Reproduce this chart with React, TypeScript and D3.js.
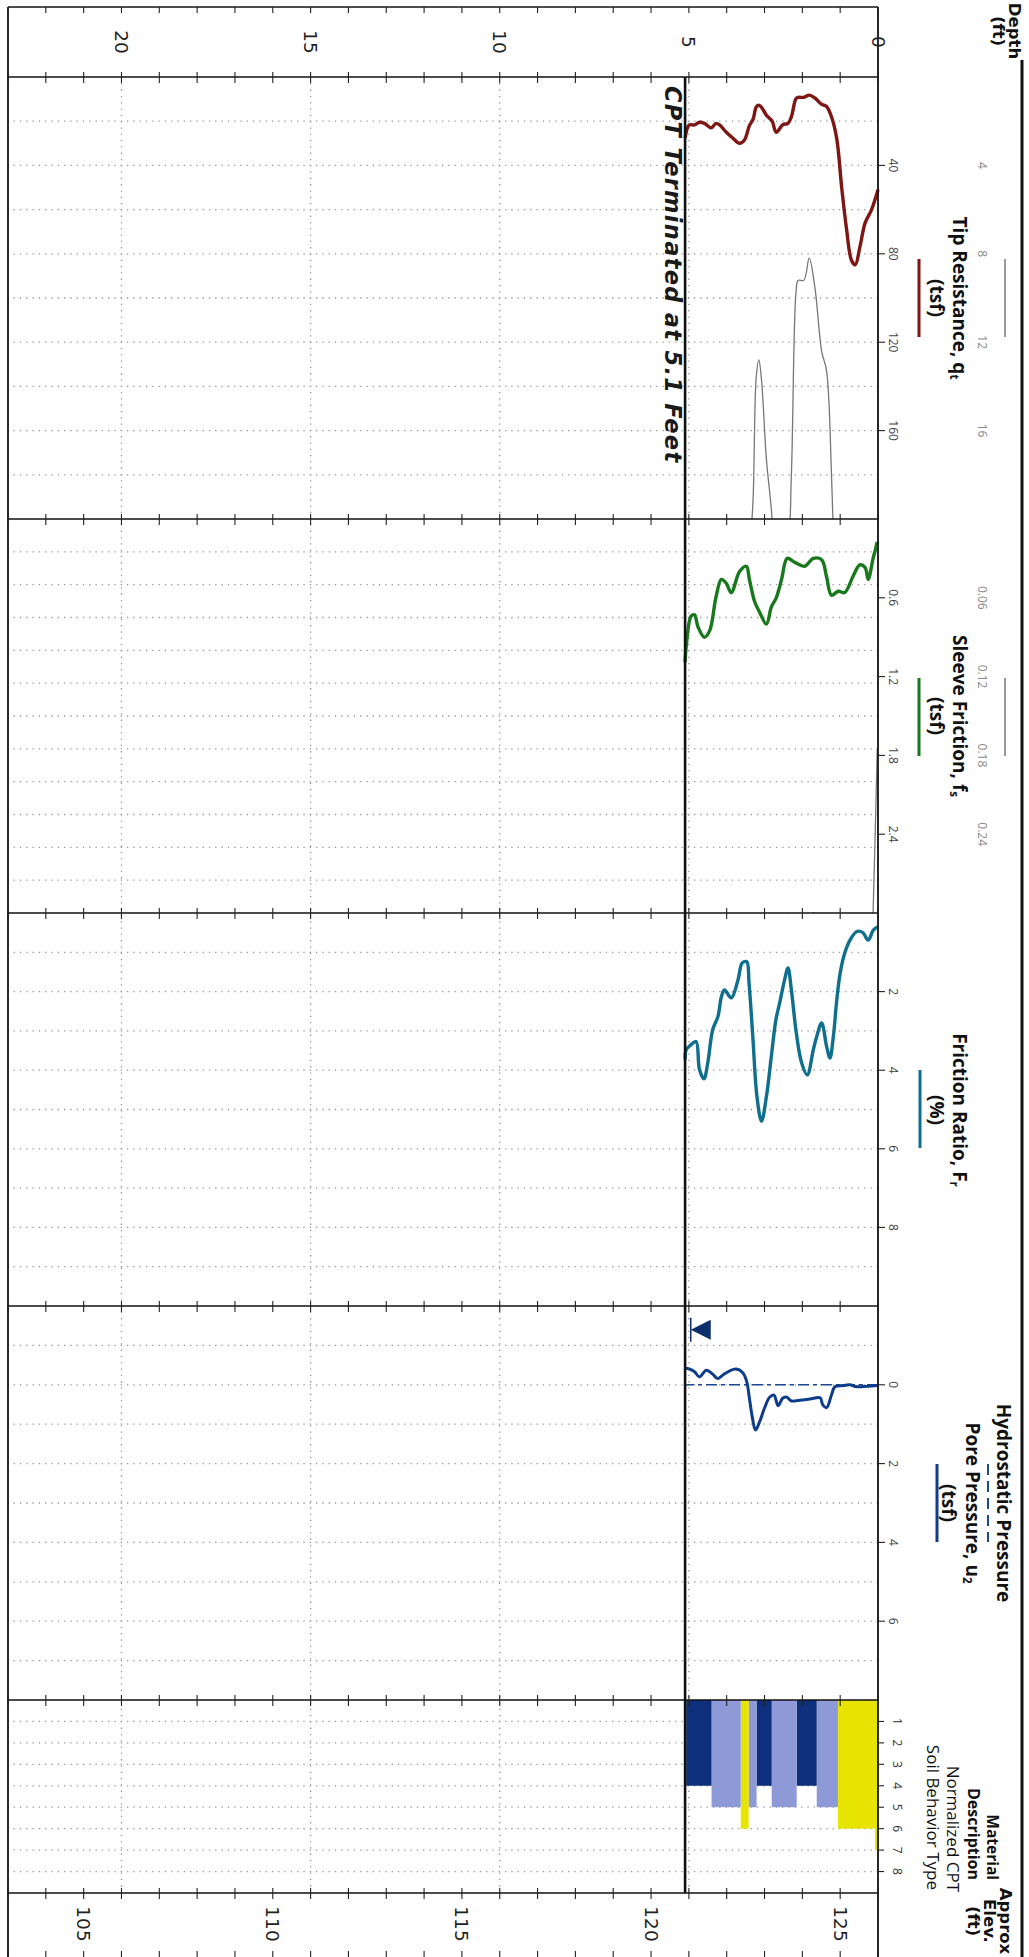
import React from "react";
import * as d3 from "d3";

// CPT sounding readings, depth in feet
const tipDepth = [0, 0.17, 0.34, 0.48, 0.6, 0.7, 0.83, 0.96, 1.09, 1.23, 1.36, 1.49, 1.67, 1.82, 1.96, 2.11, 2.17, 2.29, 2.38, 2.51, 2.69, 2.8, 2.95, 3.08, 3.15, 3.22, 3.3, 3.4, 3.53, 3.66, 3.84, 4.01, 4.19, 4.28, 4.41, 4.59, 4.72, 4.85, 4.99, 5.1];
const tipQt = [51, 60, 66, 77, 85, 83, 69, 50, 28, 18, 13.3, 12.4, 9.5, 8.2, 9.2, 9.2, 9.8, 18, 21, 21.5, 25, 20, 17.3, 13.7, 12.8, 13.6, 19, 22, 28.5, 30, 27.6, 25, 21.7, 21, 23, 21, 20.5, 21.7, 21.7, 27.6];

const fsDepth = [0.02, 0.07, 0.13, 0.26, 0.34, 0.48, 0.65, 0.88, 1.05, 1.23, 1.36, 1.49, 1.71, 1.94, 2.2, 2.4, 2.55, 2.69, 2.82, 2.95, 3.13, 3.26, 3.4, 3.48, 3.66, 3.88, 4.01, 4.14, 4.28, 4.45, 4.59, 4.76, 4.85, 4.94, 5.07, 5.1];
const fsValue = [0.175, 0.235, 0.3, 0.46, 0.37, 0.35, 0.43, 0.56, 0.55, 0.58, 0.44, 0.31, 0.3, 0.36, 0.33, 0.3, 0.46, 0.6, 0.67, 0.8, 0.71, 0.63, 0.46, 0.36, 0.4, 0.56, 0.49, 0.46, 0.59, 0.85, 0.9, 0.82, 0.73, 0.74, 0.97, 1.09];

const frDepth = [0, 0.12, 0.26, 0.4, 0.56, 0.74, 0.88, 1.0, 1.09, 1.18, 1.27, 1.36, 1.49, 1.62, 1.71, 1.87, 2.02, 2.16, 2.29, 2.38, 2.47, 2.6, 2.7, 2.82, 2.95, 3.08, 3.2, 3.31, 3.41, 3.47, 3.59, 3.7, 3.88, 4.06, 4.14, 4.23, 4.37, 4.5, 4.6, 4.72, 4.81, 4.94, 5.07, 5.1];
const frValue = [0.35, 0.43, 0.69, 0.5, 0.47, 0.69, 1.02, 1.53, 2.21, 3.14, 3.69, 3.39, 2.8, 3.14, 3.48, 4.12, 3.81, 3.05, 1.96, 1.4, 1.7, 2.29, 2.72, 3.65, 4.67, 5.3, 4.67, 3.14, 1.78, 1.24, 1.27, 1.7, 2.16, 1.96, 2.13, 2.63, 2.97, 3.81, 4.22, 3.98, 3.27, 3.35, 3.48, 3.73];

const u2Depth = [0, 0.3, 0.56, 0.75, 0.92, 1.14, 1.23, 1.36, 1.46, 1.53, 1.8, 2.07, 2.29, 2.42, 2.52, 2.64, 2.75, 2.86, 3.0, 3.13, 3.24, 3.32, 3.4, 3.47, 3.57, 3.75, 3.93, 4.1, 4.24, 4.37, 4.54, 4.72, 4.85, 4.99, 5.1];
const u2Value = [0.02, 0.04, 0.05, 0.0, 0.02, 0.05, 0.26, 0.58, 0.51, 0.33, 0.36, 0.39, 0.41, 0.31, 0.34, 0.53, 0.26, 0.31, 0.59, 0.94, 1.15, 0.84, 0.34, -0.08, -0.3, -0.4, -0.35, -0.25, -0.16, -0.27, -0.37, -0.2, -0.33, -0.4, -0.42];

const hydroDepth = [0, 4.95, 5.1];
const hydroValue = [0, 0, 0.005];
const waterDepth = 4.95;
const endDepth = 5.1;

// soil behaviour type layers
const sbtTop = [0, 0.08, 1.06, 1.62, 2.15, 2.81, 3.21, 3.42, 3.63, 4.4];
const sbtBottom = [0.08, 1.06, 1.62, 2.15, 2.81, 3.21, 3.42, 3.63, 4.4, 5.07];
const sbtZone = [7, 6, 5, 4, 5, 4, 5, 6, 5, 4];

// axis labels
const depthLabels = [0, 5, 10, 15, 20];
const elevLabels = [125, 120, 115, 110, 105];
const groundElev = 126;
const tipTicks = [40, 80, 120, 160];
const tipTicks2 = [4, 8, 12, 16];
const fsTicks = [0.6, 1.2, 1.8, 2.4];
const fsTicks2 = [0.06, 0.12, 0.18, 0.24];
const frTicks = [2, 4, 6, 8];
const u2Ticks = [0, 2, 4, 6];
const sbtTicks = [1, 2, 3, 4, 5, 6, 7, 8];

const zoneColor = (z: number) => (z <= 4 ? "#0d2f7c" : z === 5 ? "#8e99d8" : "#e6e400");

const W = 1029;
const H = 1957;
const TOP = 151; // depth 0 (rotated frame)
const BOT = 1021;
const borders = [7, 77, 519, 913, 1306, 1700, 1893];

const sans = "'Open Sans', 'Noto Sans', sans-serif";
const deja = "'DejaVu Sans', Verdana, sans-serif";

export default function App() {
  const y = d3.scaleLinear().domain([0, 23]).range([TOP, BOT]);
  const xTip = d3.scaleLinear().domain([0, 200]).range([77, 519]);
  const xTip2 = d3.scaleLinear().domain([0, 20]).range([77, 519]);
  const xFs = d3.scaleLinear().domain([0, 3]).range([519, 913]);
  const xFs2 = d3.scaleLinear().domain([0, 0.3]).range([519, 913]);
  const xFr = d3.scaleLinear().domain([0, 10]).range([913, 1306]);
  const xU = d3.scaleLinear().domain([-2, 8]).range([1306, 1700]);
  const xSbt = d3.scaleLinear().domain([0, 9]).range([1700, 1893]);

  const path = (sx: d3.ScaleLinear<number, number>, dep: number[], val: number[]) =>
    d3
      .line<number>()
      .x((i) => sx(val[i]))
      .y((i) => y(dep[i]))
      .curve(d3.curveCatmullRom.alpha(0.5))(d3.range(dep.length)) || "";

  const feet = d3.range(0, 24);
  const grid = [
    ...d3.range(20, 200, 20).map((v) => xTip(v)),
    ...d3.range(0.25, 2.99, 0.25).map((v) => xFs(v)),
    ...d3.range(1, 10).map((v) => xFr(v)),
    ...d3.range(-1, 8).map((v) => xU(v)),
    ...d3.range(1, 9).map((v) => xSbt(v)),
  ];
  const dot = { stroke: "#959595", strokeWidth: 1.3, strokeDasharray: "1.3 5" };

  const primTicks: [number, string][] = [
    ...tipTicks.map((v) => [xTip(v), String(v)] as [number, string]),
    ...fsTicks.map((v) => [xFs(v), v.toFixed(1)] as [number, string]),
    ...frTicks.map((v) => [xFr(v), String(v)] as [number, string]),
    ...u2Ticks.map((v) => [xU(v), String(v)] as [number, string]),
  ];
  const secTicks: [number, string][] = [
    ...tipTicks2.map((v) => [xTip2(v), String(v)] as [number, string]),
    ...fsTicks2.map((v) => [xFs2(v), v.toFixed(2)] as [number, string]),
  ];

  const wy = y(waterDepth);
  const wx = xU(-1.4);

  return (
    <div style={{ position: "absolute", left: 0, top: 0, width: W, height: H, background: "#fff" }}>
      <svg width={W} height={H} style={{ display: "block" }}>
        <rect width={W} height={H} fill="#fff" />
        <g transform={`translate(${W},0) rotate(90)`}>
          <defs>
            <clipPath id="clipTip">
              <rect x={77} y={TOP} width={442} height={BOT - TOP} />
            </clipPath>
            <clipPath id="clipFs">
              <rect x={519} y={TOP} width={394} height={BOT - TOP} />
            </clipPath>
          </defs>

          {/* dotted grid */}
          {grid.map((gx, i) => (
            <line key={"g" + i} x1={gx} x2={gx} y1={TOP} y2={BOT} {...dot} />
          ))}
          {[5, 10, 15, 20].map((d) => (
            <line key={"dg" + d} x1={77} x2={1893} y1={y(d)} y2={y(d)} {...dot} />
          ))}

          {/* SBT bars */}
          {sbtZone.map((z, i) => (
            <rect
              key={"s" + i}
              x={xSbt(0)}
              y={y(sbtTop[i])}
              width={xSbt(z) - xSbt(0)}
              height={y(sbtBottom[i]) - y(sbtTop[i])}
              fill={zoneColor(z)}
            />
          ))}

          {/* secondary (zoomed) traces */}
          <g clipPath="url(#clipTip)">
            <path d={path(xTip2, tipDepth, tipQt)} fill="none" stroke="#777" strokeWidth={1.3} />
          </g>
          <g clipPath="url(#clipFs)">
            <path d={path(xFs2, fsDepth, fsValue)} fill="none" stroke="#777" strokeWidth={1.3} />
          </g>

          {/* main traces */}
          <path d={path(xTip, tipDepth, tipQt)} fill="none" stroke="#7e1714" strokeWidth={3.4} strokeLinejoin="round" />
          <path d={path(xFs, fsDepth, fsValue)} fill="none" stroke="#18781c" strokeWidth={3.4} strokeLinejoin="round" />
          <path d={path(xFr, frDepth, frValue)} fill="none" stroke="#0f6f8c" strokeWidth={3.4} strokeLinejoin="round" />
          <path
            d={d3.line<number>().x((i) => xU(hydroValue[i])).y((i) => y(hydroDepth[i]))(d3.range(hydroDepth.length)) || ""}
            fill="none"
            stroke="#1c4a8e"
            strokeWidth={1.6}
            strokeDasharray="11 4 4 4"
          />
          <path d={path(xU, u2Depth, u2Value)} fill="none" stroke="#0d3c8a" strokeWidth={3} strokeLinejoin="round" />

          {/* water table */}
          <path d={`M${wx - 10},${wy - 20}L${wx + 10},${wy - 20}L${wx},${wy}Z`} fill="#0d2f6e" />
          <line x1={wx - 12} x2={wx + 12} y1={wy} y2={wy} stroke="#0d2f6e" strokeWidth={1.5} />

          {/* frame */}
          {borders.map((bx) => (
            <line key={"b" + bx} x1={bx} x2={bx} y1={TOP} y2={BOT} stroke="#111" strokeWidth={1.6} />
          ))}
          <line x1={7} x2={1960} y1={TOP} y2={TOP} stroke="#111" strokeWidth={1.8} />
          <line x1={7} x2={1960} y1={BOT} y2={BOT} stroke="#111" strokeWidth={1.8} />
          <line x1={60} x2={1960} y1={7} y2={7} stroke="#111" strokeWidth={3} />
          <line x1={77} x2={1893} y1={y(endDepth)} y2={y(endDepth)} stroke="#111" strokeWidth={2.6} />

          {/* foot ticks across every border */}
          {borders.map((bx) =>
            feet.map((f) => (
              <line
                key={"t" + bx + "-" + f}
                x1={bx === 7 ? bx : bx - 5}
                x2={bx + 6}
                y1={y(f)}
                y2={y(f)}
                stroke="#222"
                strokeWidth={1.1}
              />
            ))
          )}
          {feet.map((f) => (
            <line key={"te" + f} x1={1951} x2={1960} y1={y(f)} y2={y(f)} stroke="#222" strokeWidth={1.1} />
          ))}

          {/* value ticks and labels */}
          {primTicks.map(([tx, lab], i) => (
            <g key={"p" + i}>
              <line x1={tx} x2={tx} y1={TOP} y2={TOP - 7} stroke="#222" strokeWidth={1.1} />
              <text x={tx} y={136} textAnchor="middle" dominantBaseline="central" fontFamily={sans} fontSize={12} fill="#444">
                {lab}
              </text>
            </g>
          ))}
          {sbtTicks.map((v) => (
            <g key={"sb" + v}>
              <line x1={xSbt(v)} x2={xSbt(v)} y1={TOP} y2={TOP - 6} stroke="#222" strokeWidth={1.1} />
              <text x={xSbt(v)} y={132} textAnchor="middle" dominantBaseline="central" fontFamily={sans} fontSize={12} fill="#333">
                {v}
              </text>
            </g>
          ))}
          {secTicks.map(([tx, lab], i) => (
            <text key={"q" + i} x={tx} y={47} textAnchor="middle" dominantBaseline="central" fontFamily={sans} fontSize={12} fill="#888">
              {lab}
            </text>
          ))}

          {/* depth and elevation labels */}
          {depthLabels.map((d) => (
            <text key={"dl" + d} x={42} y={y(d)} textAnchor="middle" dominantBaseline="central" fontFamily={deja} fontSize={18.5} fill="#222">
              {d}
            </text>
          ))}
          {elevLabels.map((e) => (
            <text key={"el" + e} x={1924} y={y(groundElev - e)} textAnchor="middle" dominantBaseline="central" fontFamily={deja} fontSize={18.5} fill="#222">
              {e}
            </text>
          ))}

          {/* headers */}
          <g fontFamily={deja} fontWeight="bold" fontSize={16.5} textAnchor="middle" fill="#111">
            <text x={31} y={15} dominantBaseline="central">Depth</text>
            <text x={31} y={31} dominantBaseline="central">(ft)</text>
            <text x={1921} y={24} dominantBaseline="central">Approx</text>
            <text x={1921} y={40} dominantBaseline="central">Elev.</text>
            <text x={1921} y={56} dominantBaseline="central">(ft)</text>
          </g>

          <g fontFamily={sans} fontWeight="bold" fontSize={19} textAnchor="middle" fill="#111">
            <text x={298} y={69} dominantBaseline="central">
              Tip Resistance, q<tspan fontSize={11.5} dy={5}>t</tspan>
            </text>
            <text x={298} y={92} dominantBaseline="central">(tsf)</text>
            <text x={716} y={69} dominantBaseline="central">
              Sleeve Friction, f<tspan fontSize={11.5} dy={5}>s</tspan>
            </text>
            <text x={716} y={92} dominantBaseline="central">(tsf)</text>
            <text x={1110} y={69} dominantBaseline="central">
              Friction Ratio, F<tspan fontSize={11.5} dy={5}>r</tspan>
            </text>
            <text x={1110} y={92} dominantBaseline="central">(%)</text>
            <text x={1503} y={25} dominantBaseline="central">Hydrostatic Pressure</text>
            <text x={1503} y={56} dominantBaseline="central">
              Pore Pressure, u<tspan fontSize={11.5} dy={5}>2</tspan>
            </text>
            <text x={1503} y={80} dominantBaseline="central">(tsf)</text>
          </g>
          <g fontFamily={sans} fontSize={17} textAnchor="end" fill="#111">
            <text x={1880} y={36} fontWeight="bold" fontSize={15.5} dominantBaseline="central">Material</text>
            <text x={1880} y={55} fontWeight="bold" fontSize={16} dominantBaseline="central">Description</text>
            <text x={1892} y={76} dominantBaseline="central">Normalized CPT</text>
            <text x={1890} y={96} dominantBaseline="central">Soil Behavior Type</text>
          </g>

          {/* legend swatches */}
          <line x1={259} x2={337} y1={24} y2={24} stroke="#777" strokeWidth={1.5} />
          <line x1={259} x2={337} y1={110} y2={110} stroke="#7e1714" strokeWidth={3} />
          <line x1={678} x2={756} y1={24} y2={24} stroke="#777" strokeWidth={1.5} />
          <line x1={678} x2={756} y1={110} y2={110} stroke="#18781c" strokeWidth={3} />
          <line x1={1070} x2={1148} y1={109} y2={109} stroke="#0f6f8c" strokeWidth={3} />
          <line x1={1464} x2={1542} y1={41} y2={41} stroke="#1c4a8e" strokeWidth={2} strokeDasharray="11 6" />
          <line x1={1464} x2={1542} y1={92} y2={92} stroke="#0d3c8a" strokeWidth={3} />

          <text
            x={86}
            y={y(endDepth) + 20}
            fontFamily={deja}
            fontWeight="bold"
            fontStyle="italic"
            fontSize={22.5}
            letterSpacing={1.3}
            fill="#1a1a1a"
          >
            CPT Terminated at 5.1 Feet
          </text>
        </g>
      </svg>
    </div>
  );
}
